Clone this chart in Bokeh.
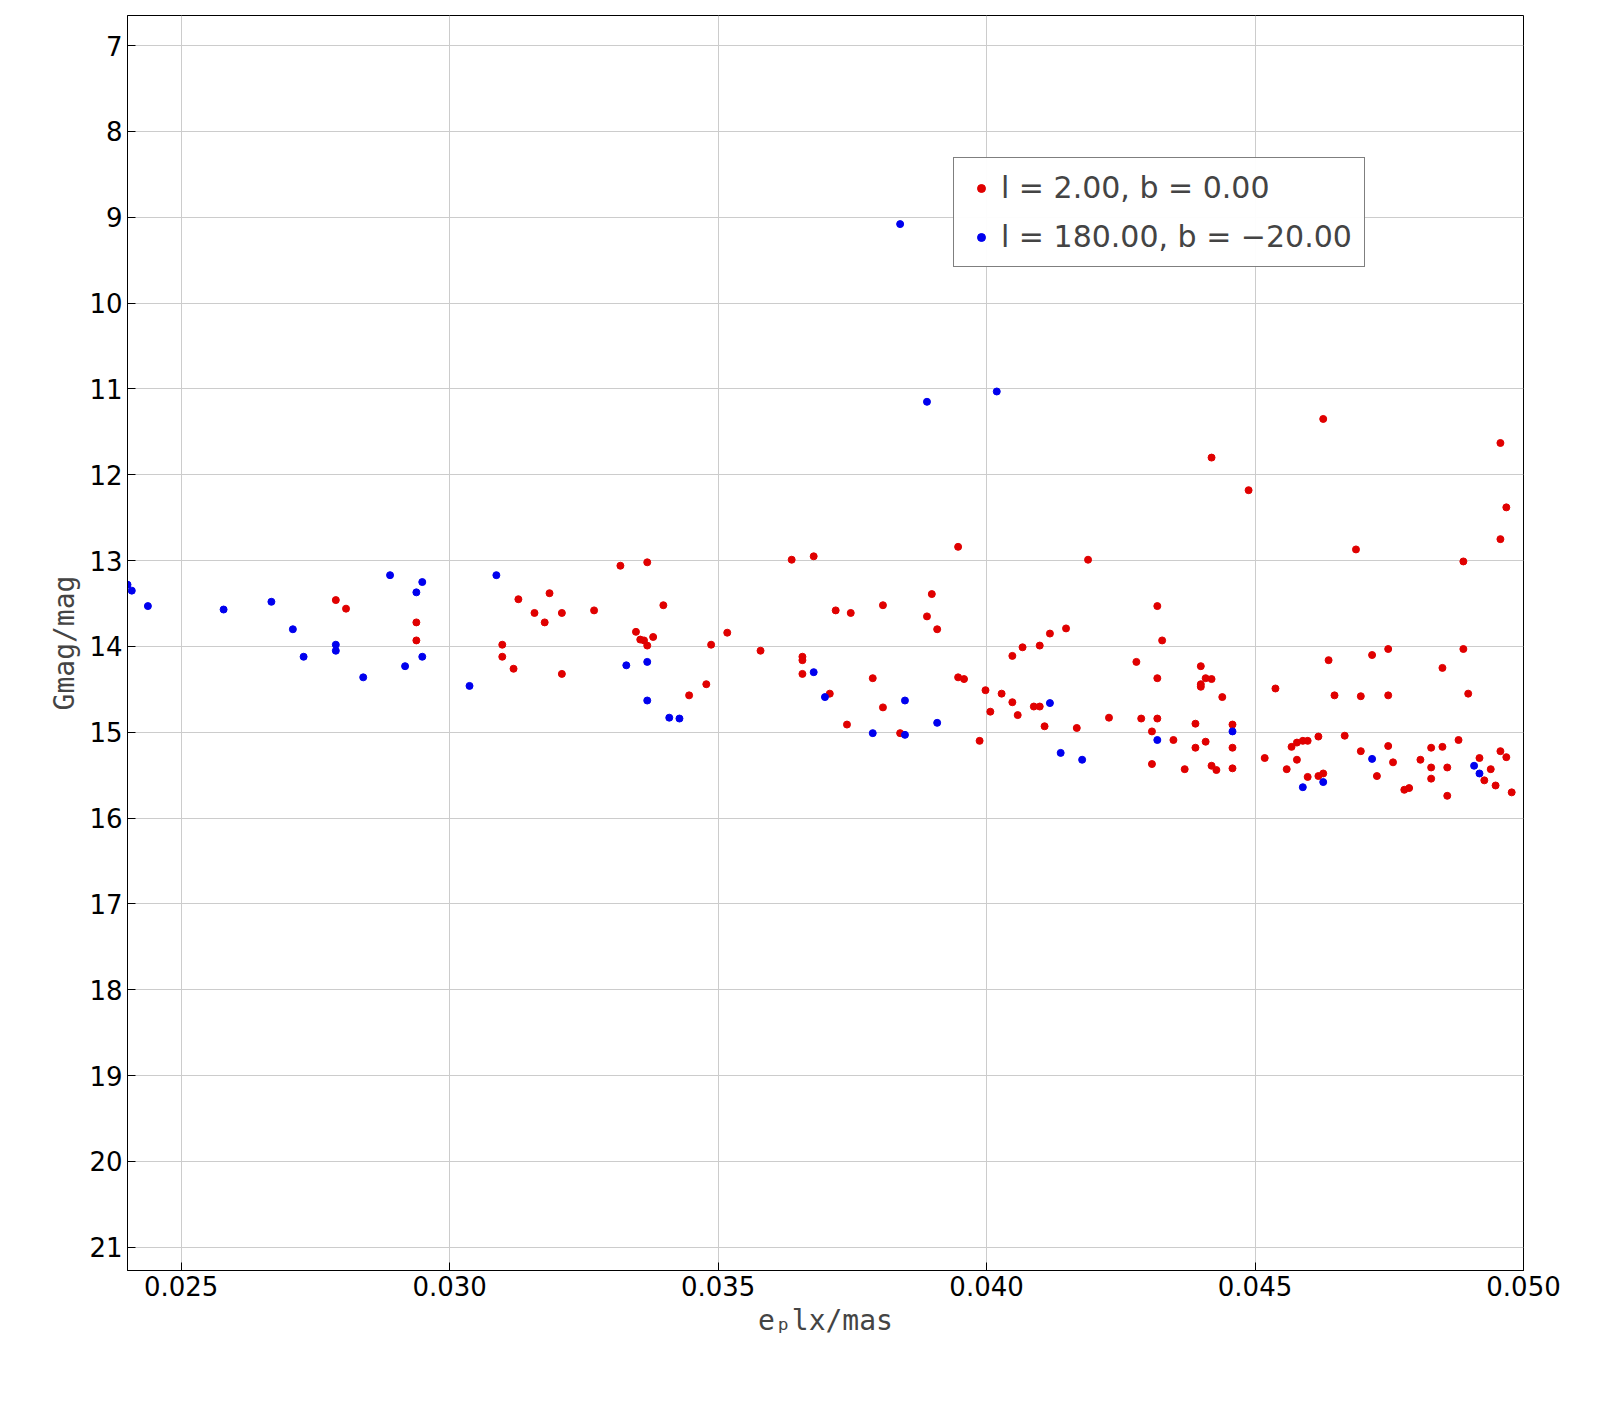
from bokeh.plotting import figure
from bokeh.embed import file_html
from bokeh.resources import INLINE
from bokeh.models import Range1d, FixedTicker, Legend, LegendItem, CustomJSTickFormatter

red_x = [0.02788,0.02807,0.02938,0.02938,0.03098,0.03098,0.03119,0.03128,0.03158,0.03177,0.03186,0.03209,0.03209,0.03269,0.03318,0.03368,0.03347,0.03355,0.03362,0.03368,0.03379,0.03398,0.03446,0.03478,0.03487,0.03517,0.03579,0.03637,0.03678,0.03657,0.03657,0.03657,0.03708,0.03719,0.03747,0.03740,0.03788,0.03807,0.03807,0.03839,0.03889,0.03898,0.03908,0.03947,0.03947,0.03958,0.03987,0.03998,0.04007,0.04028,0.04048,0.04048,0.04058,0.04067,0.04088,0.04099,0.04099,0.04108,0.04118,0.04148,0.04168,0.04189,0.04228,0.04279,0.04288,0.04308,0.04308,0.04318,0.04318,0.04318,0.04327,0.04348,0.04369,0.04389,0.04389,0.04399,0.04399,0.04399,0.04408,0.04408,0.04419,0.04419,0.04428,0.04419,0.04439,0.04458,0.04458,0.04458,0.04488,0.04518,0.04538,0.04559,0.04568,0.04578,0.04578,0.04589,0.04598,0.04598,0.04618,0.04618,0.04627,0.04627,0.04637,0.04648,0.04667,0.04688,0.04697,0.04697,0.04718,0.04727,0.04748,0.04748,0.04748,0.04757,0.04778,0.04787,0.04808,0.04828,0.04828,0.04828,0.04849,0.04849,0.04858,0.04858,0.04879,0.04888,0.04888,0.04897,0.04918,0.04927,0.04939,0.04948,0.04957,0.04957,0.04957,0.04968,0.04968,0.04978]
red_y = [13.46,13.56,13.72,13.93,13.98,14.12,14.26,13.45,13.61,13.72,13.38,13.61,14.32,13.58,13.06,13.02,13.83,13.92,13.93,13.99,13.89,13.52,14.57,14.44,13.98,13.84,14.05,12.99,12.95,14.12,14.16,14.32,14.55,13.58,13.61,14.91,14.37,13.52,14.71,15.01,13.65,13.39,13.80,12.84,14.36,14.38,15.10,14.51,14.76,14.55,14.11,14.65,14.80,14.01,14.70,14.70,13.99,14.93,13.85,13.79,14.95,12.99,14.83,14.18,14.84,14.99,15.37,13.53,14.37,14.84,13.93,15.09,15.43,14.90,15.18,14.23,14.44,14.47,14.37,15.11,14.38,15.39,15.44,11.80,14.59,14.91,15.18,15.42,12.18,15.30,14.49,15.43,15.17,15.12,15.32,15.10,15.10,15.52,15.05,15.51,11.35,15.48,14.16,14.57,15.04,12.87,15.22,14.58,14.10,15.51,14.03,14.57,15.16,15.35,15.67,15.65,15.32,15.18,15.41,15.54,14.25,15.17,15.74,15.41,15.09,13.01,14.03,14.55,15.30,15.56,15.43,15.62,15.22,12.75,11.63,12.38,15.29,15.70]
blue_x = [0.02400,0.02408,0.02438,0.02579,0.02668,0.02708,0.02728,0.02788,0.02788,0.02839,0.02889,0.02917,0.02938,0.02949,0.02949,0.03037,0.03087,0.03329,0.03368,0.03368,0.03409,0.03428,0.03678,0.03699,0.03788,0.03839,0.03848,0.03848,0.03889,0.03908,0.04019,0.04118,0.04138,0.04178,0.04318,0.04458,0.04589,0.04627,0.04718,0.04908,0.04918]
blue_y = [13.28,13.35,13.53,13.57,13.48,13.80,14.12,13.98,14.05,14.36,13.17,14.23,13.37,13.25,14.12,14.46,13.17,14.22,14.18,14.63,14.83,14.84,14.30,14.59,15.01,9.08,14.63,15.03,11.15,14.89,11.03,14.66,15.24,15.32,15.09,14.99,15.64,15.58,15.31,15.39,15.48]
x_ticks = [0.025,0.030,0.035,0.040,0.045,0.050]
y_ticks = list(range(7, 22))

F = "DejaVu Sans"
p = figure(width=1570, height=1370, output_backend="svg", toolbar_location=None,
           x_range=Range1d(0.024, 0.050), y_range=Range1d(21.27, 6.65),
           min_border_left=127, min_border_top=15, min_border_right=47, min_border_bottom=100)
p.outline_line_color = "black"
r1 = p.scatter(red_x, red_y, size=7, color="#e00000")
r2 = p.scatter(blue_x, blue_y, size=7, color="#0000ee")
p.xaxis.ticker = FixedTicker(ticks=x_ticks)
p.yaxis.ticker = FixedTicker(ticks=y_ticks)
p.xaxis.formatter = CustomJSTickFormatter(code="return tick.toFixed(3);")
for ax in (p.xaxis[0], p.yaxis[0]):
    ax.major_label_text_font = F
    ax.major_label_text_font_size = "26px"
    ax.major_label_text_color = "black"
    ax.axis_label_text_font = "DejaVu Sans Mono"
    ax.axis_label_text_font_size = "28px"
    ax.axis_label_text_font_style = "normal"
    ax.major_tick_in = 8
    ax.major_tick_out = 0
    ax.minor_tick_in = 4
    ax.minor_tick_out = 0
p.xaxis.axis_label = "eₚlx/mas"
p.yaxis.axis_label = "Gmag/mag"
p.grid.grid_line_color = "#cccccc"
leg = Legend(items=[LegendItem(label="l = 2.00, b = 0.00", renderers=[r1]),
                    LegendItem(label="l = 180.00, b = −20.00", renderers=[r2])],
             location=(826, 1003))
leg.label_text_font = F
leg.label_text_font_size = "30px"
leg.border_line_color = "black"
leg.margin = 0
leg.padding = 12
leg.spacing = 14
leg.glyph_width = 30
p.add_layout(leg)
open("out.html", "w").write(file_html(p, INLINE))
